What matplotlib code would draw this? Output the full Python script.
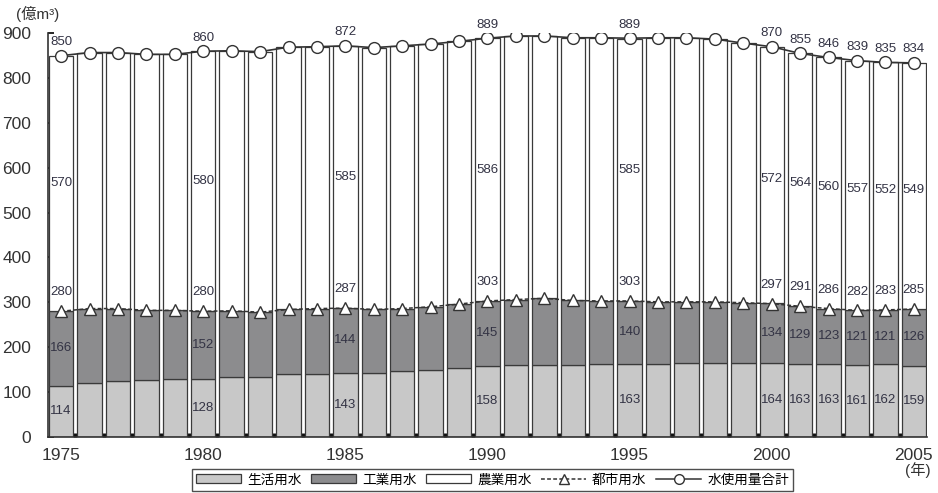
import numpy as np
import matplotlib
matplotlib.use("Agg")
import matplotlib.pyplot as plt
from matplotlib.patches import Patch
from matplotlib.lines import Line2D

plt.rcParams['font.family'] = ['Liberation Sans', 'Noto Sans CJK JP']

years = np.arange(1975, 2006)

# 生活用水 / 工業用水 / 農業用水 (億m3)
domestic = [114, 121, 125, 127, 129, 128, 133, 133, 139, 141,
            143, 143, 146, 150, 154, 158, 160, 161, 161, 163,
            163, 162, 164, 164, 164, 164, 163, 163, 161, 162, 159]
industrial = [166, 165, 161, 155, 153, 152, 148, 145, 145, 145,
              144, 141, 140, 140, 142, 145, 146, 148, 143, 140,
              140, 139, 137, 137, 135, 134, 129, 123, 121, 121, 126]
agricultural = [570, 571, 571, 571, 571, 580, 580, 581, 585, 584,
                585, 584, 586, 586, 586, 586, 588, 585, 586, 587,
                585, 589, 589, 586, 579, 572, 564, 560, 557, 552, 549]
# 都市用水 / 水使用量合計
urban = [280, 286, 286, 282, 282, 280, 281, 278, 284, 286,
         287, 284, 286, 290, 296, 303, 306, 309, 304, 303,
         303, 301, 301, 301, 299, 297, 291, 286, 282, 283, 285]
total = [850, 857, 857, 853, 853, 860, 861, 859, 869, 870,
         872, 868, 872, 876, 882, 889, 894, 894, 890, 890,
         889, 890, 890, 887, 878, 870, 855, 846, 839, 835, 834]

label_years = [1975, 1980, 1985, 1990, 1995, 2000, 2001, 2002, 2003, 2004, 2005]

c_dom = '#c8c8c8'
c_ind = '#8c8c8e'
c_agr = '#ffffff'
edge = '#3a3a3a'
txt = '#333344'

fig = plt.figure(figsize=(9.38, 4.93), dpi=100)
ax = fig.add_axes([0.0512, 0.114, 0.937, 0.8185])

w = 0.86
dom = np.array(domestic)
ind = np.array(industrial)
agr = np.array(agricultural)
ax.bar(years, dom, width=w, color=c_dom, edgecolor=edge, linewidth=0.9, zorder=2)
ax.bar(years, ind, width=w, bottom=dom, color=c_ind, edgecolor=edge, linewidth=0.9, zorder=2)
ax.bar(years, agr, width=w, bottom=dom + ind, color=c_agr, edgecolor=edge, linewidth=0.9, zorder=2)

ax.plot(years, urban, color='#333333', lw=1.1, ls=(0, (2.5, 1.5)), marker='^',
        markersize=8.5, markerfacecolor='white', markeredgecolor='#333333',
        markeredgewidth=1.0, zorder=4)
ax.plot(years, total, color='#333333', lw=1.2, marker='o',
        markersize=8.5, markerfacecolor='white', markeredgecolor='#333333',
        markeredgewidth=1.0, zorder=4)

for y in label_years:
    i = y - 1975
    fs = 9.5
    ax.text(y, dom[i] / 2, f"{domestic[i]}", ha='center', va='center', fontsize=fs, color=txt, zorder=5)
    ax.text(y, dom[i] + ind[i] / 2, f"{industrial[i]}", ha='center', va='center', fontsize=fs, color=txt, zorder=5)
    ax.text(y, urban[i] + 42, f"{urban[i]}", ha='center', va='center', fontsize=fs, color=txt, zorder=5)
    ax.text(y, total[i] + 30, f"{total[i]}", ha='center', va='center', fontsize=fs, color=txt, zorder=5)
    if y < 2000:
        ax.text(y, urban[i] + agr[i] / 2, f"{agricultural[i]}", ha='center', va='center', fontsize=fs, color=txt, zorder=5)
    else:
        ax.text(y, urban[i] + agr[i] / 2 - 8, f"{agricultural[i]}", ha='center', va='center', fontsize=fs, color=txt, zorder=5)

ax.set_xlim(1975 - 0.46, 2005 + 0.46)
ax.set_ylim(0, 900)
ax.set_yticks(np.arange(0, 901, 100))
ax.set_xticks([1975, 1980, 1985, 1990, 1995, 2000, 2005])
ax.set_xticks(years[:-1] + 0.5, minor=True)
ax.tick_params(axis='y', direction='in', length=4, width=1.2, labelsize=12.5,
               labelcolor='#333333', pad=12)
ax.tick_params(axis='x', which='major', length=0, labelsize=12.5, labelcolor='#333333', pad=8)
ax.tick_params(axis='x', which='minor', direction='in', length=3, width=2.5, color='#111111')
for s in ['top', 'right']:
    ax.spines[s].set_visible(False)
ax.spines['left'].set_color('#333333')
ax.spines['left'].set_linewidth(1.2)
ax.spines['bottom'].set_color('#333333')
ax.spines['bottom'].set_linewidth(1.2)

fig.text(0.040, 0.972, "(億m³)", ha='center', va='center', fontsize=11, color='#333333')
fig.text(0.978, 0.046, "(年)", ha='center', va='center', fontsize=11, color='#333333')

handles = [
    Patch(facecolor=c_dom, edgecolor=edge, linewidth=0.9),
    Patch(facecolor=c_ind, edgecolor=edge, linewidth=0.9),
    Patch(facecolor=c_agr, edgecolor=edge, linewidth=0.9),
    Line2D([], [], color='#333333', lw=1.1, ls=(0, (2.5, 1.5)), marker='^', markersize=7,
           markerfacecolor='white', markeredgecolor='#333333'),
    Line2D([], [], color='#333333', lw=1.1, marker='o', markersize=7,
           markerfacecolor='white', markeredgecolor='#333333'),
]
labels = ['生活用水', '工業用水', '農業用水', '都市用水', '水使用量合計']
leg = fig.legend(handles, labels, loc='center', bbox_to_anchor=(0.525, 0.027), ncol=5,
                 frameon=True, fancybox=False, fontsize=9.8, handlelength=3.3, handleheight=0.65,
                 handletextpad=0.45, columnspacing=0.7, borderpad=0.3, borderaxespad=0)
leg.get_frame().set_edgecolor('#222222')
leg.get_frame().set_linewidth(1.0)

fig.savefig("out.png", dpi=100)
